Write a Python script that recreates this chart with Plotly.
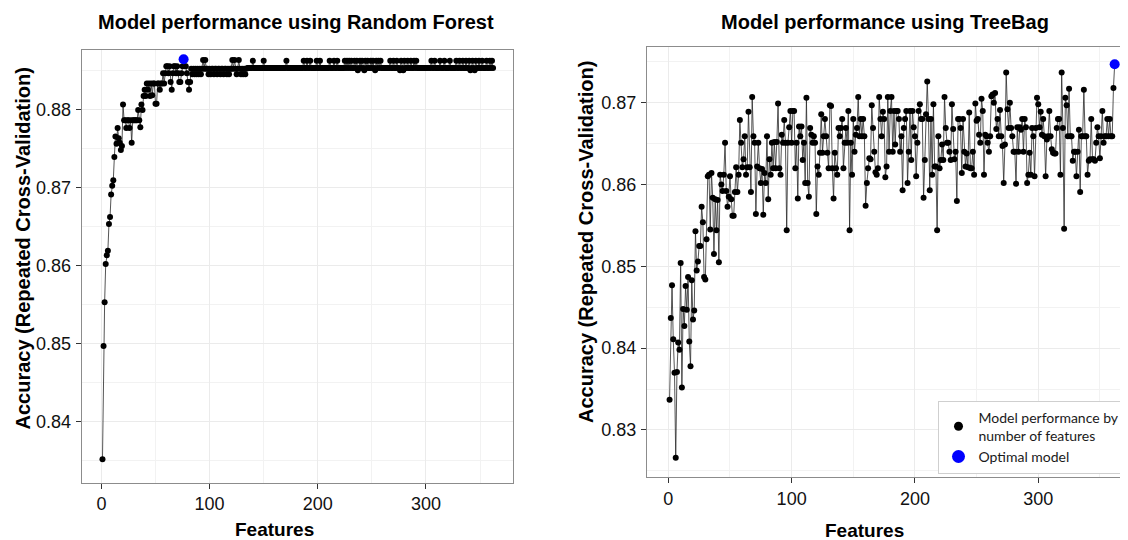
import plotly.graph_objects as go

# ---------------- data ----------------
rf_accuracy = [
    0.8352, 0.8497, 0.8553, 0.8602, 0.8613, 0.8619, 0.8653, 0.8662, 0.8691, 0.8702,
    0.8709, 0.8739, 0.8765, 0.8756, 0.8776, 0.8763, 0.8757, 0.8748, 0.8753, 0.8806,
    0.8786, 0.8786, 0.8776, 0.8786, 0.8786, 0.8776, 0.8786, 0.8757, 0.8786, 0.8786,
    0.8786, 0.8786, 0.8786, 0.8799, 0.8786, 0.8777, 0.8806, 0.8799, 0.8817, 0.8825,
    0.8817, 0.8833, 0.8825, 0.8833, 0.8817, 0.8833, 0.8818, 0.8833, 0.8833, 0.8807,
    0.8807, 0.8833, 0.8833, 0.8825, 0.8833, 0.8833, 0.8846, 0.8833, 0.8846, 0.8855,
    0.8855, 0.8846, 0.8855, 0.8835, 0.8825, 0.8846, 0.8855, 0.8855, 0.8846, 0.8855,
    0.8846, 0.8835, 0.8835, 0.8846, 0.8855, 0.8864, 0.8855, 0.8855, 0.8846, 0.8835,
    0.8825, 0.8835, 0.8852, 0.8845, 0.8852, 0.8845, 0.8852, 0.8845, 0.8852, 0.8845,
    0.8852, 0.8845, 0.8852, 0.8863, 0.8852, 0.8863, 0.8852, 0.8852, 0.8845, 0.8852,
    0.8845, 0.8852, 0.8852, 0.8845, 0.8852, 0.8852, 0.8845, 0.8852, 0.8852, 0.8845,
    0.8852, 0.8852, 0.8845, 0.8852, 0.8852, 0.8845, 0.8852, 0.8845, 0.8852, 0.8852,
    0.8863, 0.8852, 0.8863, 0.8852, 0.8845, 0.8852, 0.8863, 0.8852, 0.8845, 0.8852,
    0.8845, 0.8852, 0.8845, 0.8852, 0.8853, 0.8853, 0.8853, 0.8853, 0.8853, 0.8862,
    0.8853, 0.8853, 0.8853, 0.8853, 0.8853, 0.8853, 0.8853, 0.8853, 0.8853, 0.8862,
    0.8853, 0.8853, 0.8853, 0.8853, 0.8853, 0.8853, 0.8853, 0.8853, 0.8853, 0.8853,
    0.8853, 0.8853, 0.8853, 0.8853, 0.8853, 0.8853, 0.8853, 0.8853, 0.8853, 0.8853,
    0.8862, 0.8853, 0.8853, 0.8853, 0.8853, 0.8853, 0.8853, 0.8853, 0.8853, 0.8853,
    0.8853, 0.8853, 0.8853, 0.8853, 0.8853, 0.8853, 0.8862, 0.8853, 0.8853, 0.8862,
    0.8853, 0.8853, 0.8862, 0.8853, 0.8853, 0.8853, 0.8853, 0.8853, 0.8862, 0.8853,
    0.8853, 0.8862, 0.8853, 0.8853, 0.8853, 0.8853, 0.8853, 0.8853, 0.8853, 0.8853,
    0.8862, 0.8853, 0.8853, 0.8853, 0.8862, 0.8853, 0.8853, 0.8862, 0.8853, 0.8853,
    0.8853, 0.8853, 0.8853, 0.8853, 0.8862, 0.8853, 0.8862, 0.8853, 0.8862, 0.8853,
    0.8862, 0.8853, 0.8853, 0.8862, 0.8853, 0.8862, 0.8850, 0.8853, 0.8862, 0.8853,
    0.8862, 0.8853, 0.8850, 0.8862, 0.8853, 0.8862, 0.8853, 0.8853, 0.8862, 0.8853,
    0.8862, 0.8853, 0.8850, 0.8862, 0.8853, 0.8862, 0.8853, 0.8862, 0.8853, 0.8853,
    0.8853, 0.8853, 0.8853, 0.8853, 0.8853, 0.8853, 0.8862, 0.8853, 0.8853, 0.8862,
    0.8853, 0.8853, 0.8862, 0.8853, 0.8853, 0.8850, 0.8862, 0.8853, 0.8850, 0.8862,
    0.8853, 0.8853, 0.8862, 0.8853, 0.8853, 0.8862, 0.8853, 0.8853, 0.8862, 0.8853,
    0.8862, 0.8853, 0.8853, 0.8853, 0.8853, 0.8853, 0.8853, 0.8853, 0.8853, 0.8853,
    0.8853, 0.8853, 0.8853, 0.8853, 0.8862, 0.8853, 0.8853, 0.8862, 0.8853, 0.8853,
    0.8853, 0.8853, 0.8862, 0.8853, 0.8853, 0.8853, 0.8862, 0.8853, 0.8853, 0.8853,
    0.8853, 0.8862, 0.8853, 0.8853, 0.8853, 0.8853, 0.8853, 0.8862, 0.8853, 0.8853,
    0.8862, 0.8853, 0.8853, 0.8862, 0.8853, 0.8853, 0.8862, 0.8853, 0.8853, 0.8862,
    0.8850, 0.8853, 0.8862, 0.8853, 0.8850, 0.8862, 0.8853, 0.8853, 0.8862, 0.8853,
    0.8853, 0.8862, 0.8853, 0.8853, 0.8853, 0.8862, 0.8853, 0.8853, 0.8862, 0.8853,
    0.8862, 0.8853,
]

tb_accuracy = [
    0.8337, 0.8437, 0.8477, 0.8411, 0.8370, 0.8266, 0.8371, 0.8407, 0.8398, 0.8504,
    0.8352, 0.8448, 0.8427, 0.8476, 0.8447, 0.8487, 0.8408, 0.8378, 0.8483, 0.8435,
    0.8446, 0.8543, 0.8495, 0.8506, 0.8525, 0.8525, 0.8573, 0.8554, 0.8487, 0.8484,
    0.8533, 0.8610, 0.8612, 0.8545, 0.8614, 0.8584, 0.8515, 0.8582, 0.8544, 0.8581,
    0.8505, 0.8612, 0.8600, 0.8592, 0.8612, 0.8651, 0.8592, 0.8573, 0.8585, 0.8610,
    0.8582, 0.8562, 0.8562, 0.8591, 0.8621, 0.8591, 0.8612, 0.8679, 0.8651, 0.8621,
    0.8631, 0.8659, 0.8612, 0.8621, 0.8689, 0.8621, 0.8591, 0.8707, 0.8659, 0.8651,
    0.8564, 0.8622, 0.8651, 0.8620, 0.8602, 0.8619, 0.8563, 0.8614, 0.8602, 0.8659,
    0.8582, 0.8631, 0.8612, 0.8651, 0.8620, 0.8652, 0.8620, 0.8652, 0.8699, 0.8620,
    0.8612, 0.8661, 0.8651, 0.8679, 0.8651, 0.8544, 0.8651, 0.8670, 0.8690, 0.8651,
    0.8690, 0.8690, 0.8620, 0.8651, 0.8583, 0.8671, 0.8659, 0.8671, 0.8630, 0.8651,
    0.8602, 0.8706, 0.8602, 0.8585, 0.8669, 0.8661, 0.8651, 0.8659, 0.8651, 0.8564,
    0.8622, 0.8612, 0.8639, 0.8686, 0.8639, 0.8659, 0.8680, 0.8659, 0.8639, 0.8620,
    0.8697, 0.8696, 0.8620, 0.8583, 0.8639, 0.8620, 0.8612, 0.8669, 0.8659, 0.8669,
    0.8680, 0.8620, 0.8651, 0.8669, 0.8651, 0.8690, 0.8544, 0.8651, 0.8612, 0.8680,
    0.8640, 0.8661, 0.8669, 0.8707, 0.8659, 0.8680, 0.8659, 0.8680, 0.8659, 0.8574,
    0.8602, 0.8620, 0.8632, 0.8631, 0.8697, 0.8669, 0.8640, 0.8615, 0.8612, 0.8620,
    0.8707, 0.8680, 0.8659, 0.8689, 0.8680, 0.8609, 0.8622, 0.8707,
    0.8640, 0.8690, 0.8707, 0.8640, 0.8690, 0.8649, 0.8690, 0.8690, 0.8680, 0.8640,
    0.8659, 0.8593, 0.8669, 0.8680, 0.8690, 0.8602, 0.8640, 0.8690, 0.8630, 0.8690,
    0.8670, 0.8659, 0.8610, 0.8651, 0.8690, 0.8698, 0.8680, 0.8680, 0.8584, 0.8630,
    0.8686, 0.8726, 0.8680, 0.8593, 0.8680, 0.8612, 0.8698, 0.8622, 0.8622, 0.8544,
    0.8659, 0.8620, 0.8630, 0.8649, 0.8630, 0.8707, 0.8669, 0.8651, 0.8651, 0.8640,
    0.8630, 0.8698, 0.8668, 0.8631, 0.8640, 0.8580, 0.8680, 0.8680, 0.8669, 0.8614,
    0.8680, 0.8640, 0.8622, 0.8638, 0.8621, 0.8688, 0.8620, 0.8620, 0.8640, 0.8612,
    0.8699, 0.8678, 0.8680, 0.8661, 0.8651, 0.8705, 0.8690, 0.8612, 0.8661, 0.8659,
    0.8651, 0.8640, 0.8659, 0.8708, 0.8710, 0.8700, 0.8712, 0.8668, 0.8680, 0.8659,
    0.8691, 0.8659, 0.8647, 0.8602, 0.8649, 0.8737, 0.8692, 0.8669, 0.8700, 0.8669,
    0.8659, 0.8640, 0.8640, 0.8601, 0.8670, 0.8640, 0.8670, 0.8667, 0.8680, 0.8640,
    0.8680, 0.8670, 0.8602, 0.8612, 0.8639, 0.8612, 0.8669, 0.8659, 0.8610, 0.8669,
    0.8706, 0.8698, 0.8670, 0.8689, 0.8661, 0.8680, 0.8659, 0.8610, 0.8655, 0.8659,
    0.8690, 0.8659, 0.8643, 0.8639, 0.8638, 0.8638, 0.8669, 0.8680, 0.8680, 0.8612,
    0.8737, 0.8669, 0.8546, 0.8706, 0.8697, 0.8659, 0.8717, 0.8659, 0.8659, 0.8629,
    0.8640, 0.8640, 0.8610, 0.8640, 0.8667, 0.8591, 0.8659, 0.8659, 0.8716, 0.8659,
    0.8659, 0.8612, 0.8629, 0.8631, 0.8680, 0.8631, 0.8631, 0.8629, 0.8651, 0.8670,
    0.8659, 0.8632, 0.8659, 0.8690, 0.8651, 0.8659, 0.8659, 0.8680, 0.8659, 0.8680,
    0.8659, 0.8659, 0.8718, 0.8747,
]

rf_features = list(range(1, len(rf_accuracy) + 1))
tb_features = list(range(1, len(tb_accuracy) + 1))

x_ticks = [0, 100, 200, 300]
x_minor = [50, 150, 250, 350]
rf_y_ticks = [0.84, 0.85, 0.86, 0.87, 0.88]
rf_y_minor = [0.835, 0.845, 0.855, 0.865, 0.875, 0.885]
tb_y_ticks = [0.83, 0.84, 0.85, 0.86, 0.87]
tb_y_minor = [0.825, 0.835, 0.845, 0.855, 0.865, 0.875]

titles = ["Model performance using Random Forest", "Model performance using TreeBag"]
x_title = "Features"
y_title = "Accuracy (Repeated Cross-Validation)"
legend_names = ["Model performance by<br>number of features", "Optimal model"]

# ---------------- layout helpers (window pixel -> paper) ----------------
# the page body has an 8px margin, so the figure starts at (8, 8) in the window
OFF = 8
W, H = 1128 - OFF, 540 - OFF
def fx(p):
    return (p - OFF) / W
def fy(p):
    return 1 - (p - OFF) / H

def best(xs, ys):
    i = max(range(len(ys)), key=lambda k: ys[k])
    return xs[i], ys[i]

FONT = "Liberation Sans, Arial, sans-serif"
fig = go.Figure()

for xs, ys, xa, ya in [(rf_features, rf_accuracy, "x", "y"),
                       (tb_features, tb_accuracy, "x2", "y2")]:
    fig.add_trace(go.Scatter(
        x=xs, y=ys, mode="lines+markers", xaxis=xa, yaxis=ya,
        line=dict(color="#2a2a2a", width=0.8),
        marker=dict(color="black", size=6),
        showlegend=False, hoverinfo="x+y"))
    bx, by = best(xs, ys)
    fig.add_trace(go.Scatter(
        x=[bx], y=[by], mode="markers", xaxis=xa, yaxis=ya,
        marker=dict(color="#0000FF", size=10),
        showlegend=False))

# legend-only entries
fig.add_trace(go.Scatter(x=[None], y=[None], mode="markers", xaxis="x2", yaxis="y2",
                         marker=dict(color="black", size=9), name=legend_names[0]))
fig.add_trace(go.Scatter(x=[None], y=[None], mode="markers", xaxis="x2", yaxis="y2",
                         marker=dict(color="#0000FF", size=13), name=legend_names[1]))

common_x = dict(
    tickvals=x_ticks, ticktext=[str(v) for v in x_ticks],
    showgrid=True, gridcolor="#EBEBEB", gridwidth=1,
    minor=dict(tickvals=x_minor, showgrid=True, gridcolor="#F2F2F2", gridwidth=0.6),
    ticks="outside", ticklen=5, tickcolor="#333333", tickwidth=1,
    tickfont=dict(family=FONT, size=18, color="#111111"),
    showline=True, linecolor="#8c8c8c", linewidth=1.3,
    zeroline=False, automargin=False, ticklabelstandoff=0,
)
common_y = dict(
    showgrid=True, gridcolor="#EBEBEB", gridwidth=1,
    ticks="outside", ticklen=5, tickcolor="#333333", tickwidth=1,
    tickfont=dict(family=FONT, size=18, color="#111111"),
    showline=True, linecolor="#8c8c8c", linewidth=1.3,
    zeroline=False, automargin=False, ticklabelstandoff=1,
)

fig.update_layout(
    width=W, height=H,
    margin=dict(l=0, r=0, t=0, b=0),
    paper_bgcolor="white", plot_bgcolor="white",
    xaxis=dict(domain=[fx(81.8), fx(513.2)], range=[-18.1, 380.6], anchor="y",
               mirror=True, **common_x),
    yaxis=dict(domain=[fy(482.5), fy(50)], range=[0.83222, 0.88759], anchor="x",
               tickvals=rf_y_ticks, ticktext=[f"{v:.2f}" for v in rf_y_ticks],
               minor=dict(tickvals=rf_y_minor, showgrid=True, gridcolor="#F2F2F2", gridwidth=0.6),
               mirror=True, **common_y),
    xaxis2=dict(domain=[fx(647), 1.0], range=[-17.3, 372.8], anchor="y2",
                mirror=True, **common_x),
    yaxis2=dict(domain=[fy(477), fy(46.7)], range=[0.82425, 0.87685], anchor="x2",
                tickvals=tb_y_ticks, ticktext=[f"{v:.2f}" for v in tb_y_ticks],
                minor=dict(tickvals=tb_y_minor, showgrid=True, gridcolor="#F2F2F2", gridwidth=0.6),
                mirror=False, **common_y),
    legend=dict(x=fx(937.5), y=fy(400.5), xanchor="left", yanchor="top",
                bgcolor="white", bordercolor="#cfcfcf", borderwidth=1,
                font=dict(family="Lato, sans-serif", size=14, color="#1a1a1a"),
                tracegroupgap=0, itemsizing="trace"),
    showlegend=True,
)

ann = []
for txt, cx in [(titles[0], 296), (titles[1], 885)]:
    ann.append(dict(text=f"<b>{txt}</b>", x=fx(cx), y=fy(22), xref="paper", yref="paper",
                    showarrow=False, xanchor="center", yanchor="middle",
                    font=dict(family=FONT, size=20, color="black")))
for (cx, cy) in [(274, 529), (865, 530)]:
    ann.append(dict(text=f"<b>{x_title}</b>", x=fx(cx), y=fy(cy), xref="paper", yref="paper",
                    showarrow=False, xanchor="center", yanchor="middle",
                    font=dict(family=FONT, size=19, color="black")))
for (cx, cy) in [(22, 248.5), (586, 242)]:
    ann.append(dict(text=f"<b>{y_title}</b>", x=fx(cx), y=fy(cy), xref="paper", yref="paper",
                    showarrow=False, xanchor="center", yanchor="middle", textangle=-90,
                    font=dict(family=FONT, size=20, color="black")))
fig.update_layout(annotations=ann)

fig.write_html("out.html")
